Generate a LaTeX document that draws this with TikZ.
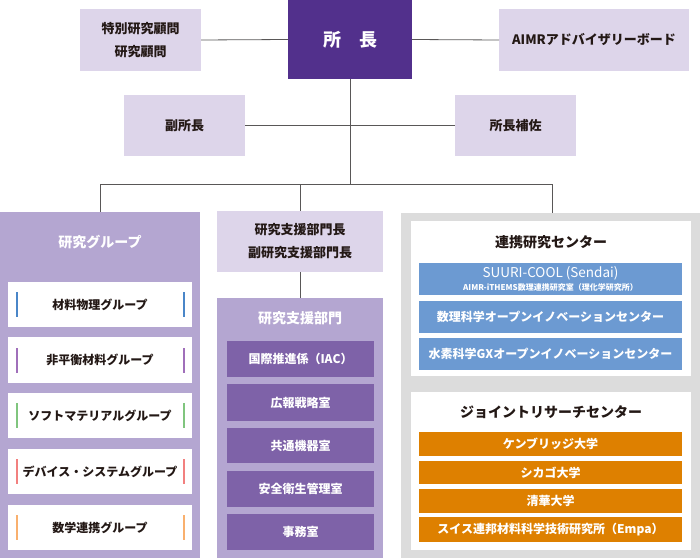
\documentclass[tikz,border=0pt]{standalone}
\usepackage{fontspec}
\setmainfont{Noto Sans CJK JP}
\definecolor{dpurple}{HTML}{52308C}
\definecolor{lav}{HTML}{DDD5EA}
\definecolor{mlav}{HTML}{B4A6D1}
\definecolor{ipurple}{HTML}{7E62A8}
\definecolor{lgrey}{HTML}{DCDCDC}
\definecolor{cblue}{HTML}{6C9AD2}
\definecolor{corange}{HTML}{DE8000}
\definecolor{linec}{HTML}{595757}
\definecolor{txt}{HTML}{231815}
\definecolor{barblue}{HTML}{4A86C8}
\definecolor{barpurple}{HTML}{A06FBA}
\definecolor{bargreen}{HTML}{80C57E}
\definecolor{barred}{HTML}{F2807F}
\definecolor{barorange}{HTML}{F9B06E}
\newcommand\bx[7]{\node[#6, minimum width={(#4-#2)*1pt}, minimum height={(#5-#3)*1pt}] (#1) at ({(#2+#4)/2},{(#3+#5)/2}) {#7};}
\newcommand\gbar[3]{%
  \fill[#3] (15.5,{#2-12.5}) rectangle (18,{#2+12.5});
  \fill[#3] (182.5,{#2-12.5}) rectangle (185,{#2+12.5});}
\begin{document}
\begin{tikzpicture}[x=1pt,y=-1pt,
  base/.style={inner sep=0pt, outer sep=0pt, align=center, text=txt},
  lbox/.style={base, fill=lav, font=\fontsize{13}{23}\selectfont\bfseries},
  chobox/.style={base, fill=dpurple, text=white, font=\fontsize{18}{20}\selectfont\bfseries},
  mbox/.style={base, fill=mlav},
  gbox/.style={base, fill=lgrey},
  wbox/.style={base, fill=white},
  grpbox/.style={base, fill=white, font=\fontsize{12}{14}\selectfont\bfseries},
  ibox/.style={base, fill=ipurple, text=white, font=\fontsize{12}{14}\selectfont\bfseries},
  bbox/.style={base, fill=cblue, text=white, font=\fontsize{12}{14}\selectfont\bfseries},
  obox/.style={base, fill=corange, text=white, font=\fontsize{12}{14}\selectfont\bfseries},
  titlew/.style={base, text=white, font=\fontsize{14}{16}\selectfont\bfseries},
  titlek/.style={base, font=\fontsize{14}{16}\selectfont\bfseries},
  conn/.style={draw=linec, line width=0.8pt}]
\useasboundingbox (0,0) rectangle (700,559);
% top level
\bx{tok}{80}{9}{201}{71}{lbox}{特別研究顧問\\研究顧問}
\bx{cho}{288}{0}{412}{79}{chobox}{所　長}
\bx{aimr}{499}{9}{689}{71}{lbox}{AIMRアドバイザリーボード}
\bx{fuku}{124}{95}{245}{156}{lbox}{副所長}
\bx{hosa}{455}{95}{576}{156}{lbox}{所長補佐}
% research groups
\bx{kg}{0}{212}{200}{558}{mbox}{}
\node[titlew] (kgt) at (100,242) {研究グループ};
\bx{g1}{8}{282}{192}{327}{grpbox}{材料物理グループ}
\bx{g2}{8}{337}{192}{383}{grpbox}{非平衡材料グループ}
\bx{g3}{8}{393}{192}{438}{grpbox}{ソフトマテリアルグループ}
\bx{g4}{8}{449}{192}{494}{grpbox}{デバイス・システムグループ}
\bx{g5}{8}{505}{192}{550}{grpbox}{数学連携グループ}
\gbar{g1}{304.5}{barblue}
\gbar{g2}{360}{barpurple}
\gbar{g3}{415.5}{bargreen}
\gbar{g4}{471.5}{barred}
\gbar{g5}{527.5}{barorange}
% research support
\bx{sh}{217}{211}{383}{272}{lbox}{研究支援部門長\\副研究支援部門長}
\bx{sb}{217}{298}{383}{558}{mbox}{}
\node[titlew] (sbt) at (300,318) {研究支援部門};
\bx{s1}{227}{341}{374}{377}{ibox}{国際推進係（IAC）}
\bx{s2}{227}{384}{374}{421}{ibox}{広報戦略室}
\bx{s3}{227}{428}{374}{463}{ibox}{共通機器室}
\bx{s4}{227}{471}{374}{507}{ibox}{安全衛生管理室}
\bx{s5}{227}{514}{374}{550}{ibox}{事務室}
% centers
\bx{rg}{401}{213}{700}{558}{gbox}{}
\bx{rc}{411}{221}{691}{376}{wbox}{}
\node[titlek] (rct) at (551,242) {連携研究センター};
\bx{b1}{419}{263}{682}{295}{bbox}{{\fontsize{13.5}{14}\selectfont\mdseries SUURI-COOL (Sendai)}\\[-1pt]{\fontsize{8}{9}\selectfont AIMR-iTHEMS数理連携研究室（理化学研究所）}}
\bx{b2}{419}{301}{682}{333}{bbox}{数理科学オープンイノベーションセンター}
\bx{b3}{419}{338}{682}{370}{bbox}{水素科学GXオープンイノベーションセンター}
\bx{jr}{411}{392}{691}{550}{wbox}{}
\node[titlek] (jrt) at (551,412) {ジョイントリサーチセンター};
\bx{o1}{419}{432}{682}{456}{obox}{ケンブリッジ大学}
\bx{o2}{419}{461}{682}{484}{obox}{シカゴ大学}
\bx{o3}{419}{489}{682}{513}{obox}{清華大学}
\bx{o4}{419}{517}{682}{542}{obox}{スイス連邦材料科学技術研究所（Empa）}
% connectors
\coordinate (busL) at (100,184);
\coordinate (busM) at (300.5,184);
\coordinate (busC) at (350,184);
\coordinate (busR) at (552,184);
\draw[conn] (tok.east) -- (cho.west);
\draw[conn] (cho.east) -- (aimr.west);
\draw[conn] (fuku.east) -- (hosa.west);
\draw[conn] (cho.south -| busC) -- (busC);
\draw[conn] (busL) -- (busR);
\draw[conn] (busL) -- (kg.north);
\draw[conn] (busM) -- (busM |- sh.north);
\draw[conn] (busR) -- (busR |- rg.north);
\draw[conn] (sh.south -| busM) -- (busM |- sb.north);
\end{tikzpicture}
\end{document}
